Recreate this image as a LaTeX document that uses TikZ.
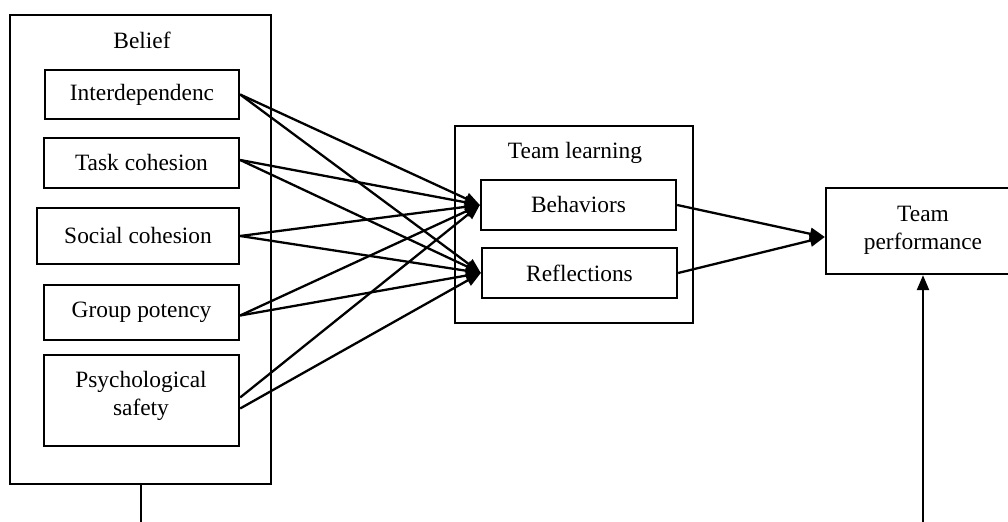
\documentclass[tikz,border=0pt]{standalone}
\usepackage{fontspec}
\setmainfont{Liberation Serif}
\usetikzlibrary{arrows.meta}
\begin{document}
\begin{tikzpicture}[x=0.5pt,y=-0.5pt,
  font=\fontsize{11.7}{14}\selectfont,
  box/.style={draw,line width=1.15pt,inner sep=0pt,align=center},
  lbl/.style={inner sep=0pt},
  con/.style={line width=1.15pt},
  arr/.style={line width=1.15pt,-{Triangle[length=7.5pt,width=6pt]}}]
\useasboundingbox (0,0) rectangle (1008,522);
\clip (0,0) rectangle (1008,522);
% Belief group
\node[box,minimum width=130.5pt,minimum height=234.5pt] (belief) at (140.5,249.5) {};
\node[lbl] (belieflbl) at (142,40) {Belief};
\node[box,minimum width=97pt,minimum height=24.5pt] (inter) at (142,94.5) {Interdependenc};
\node[box,minimum width=97.5pt,minimum height=25pt] (task) at (141.5,163) {Task cohesion};
\node[box,minimum width=101pt,minimum height=28pt] (social) at (138,236) {Social cohesion};
\node[box,minimum width=97.5pt,minimum height=27.5pt] (group) at (141.5,312.5) {Group potency};
\node[box,minimum width=97.5pt,minimum height=45.5pt] (psych) at (141.5,400.5) {};
\node[lbl,align=center] (psychlbl) at (141,396) {Psychological\\safety};
% Team learning group
\node[box,minimum width=119pt,minimum height=98.5pt] (tl) at (574,224.5) {};
\node[lbl] (tllbl) at (575,153) {Team learning};
\node[box,minimum width=97.5pt,minimum height=25pt] (beh) at (578.5,205) {Behaviors};
\node[box,minimum width=97.5pt,minimum height=25pt] (ref) at (579.5,273) {Reflections};
% Team performance
\node[box,minimum width=110pt,minimum height=43pt] (tp) at (936,231) {};
\node[lbl,align=center] (tplbl) at (923,230) {Team\\performance};
% connectors
\foreach \s/\sa/\sb in {inter/0pt/0pt,task/1.5pt/1.5pt,social/0pt/0pt,group/-1.5pt/-1.5pt,psych/1.5pt/-4pt}{
  \draw[arr] ([yshift=\sa]\s.east) -- (beh.west);
  \draw[arr] ([yshift=\sb]\s.east) -- (ref.west);
}
\draw[arr] (beh.east) -- ([yshift=-3pt]tp.west);
\draw[arr] (ref.east) -- ([yshift=-3pt]tp.west);
\coordinate (bbot) at (141,540);
\coordinate (tpbot) at (923,540);
\draw[con] (belief.south -| bbot) -- (bbot);
\draw[arr] (tpbot) -- (tp.south -| tpbot);
\end{tikzpicture}
\end{document}
